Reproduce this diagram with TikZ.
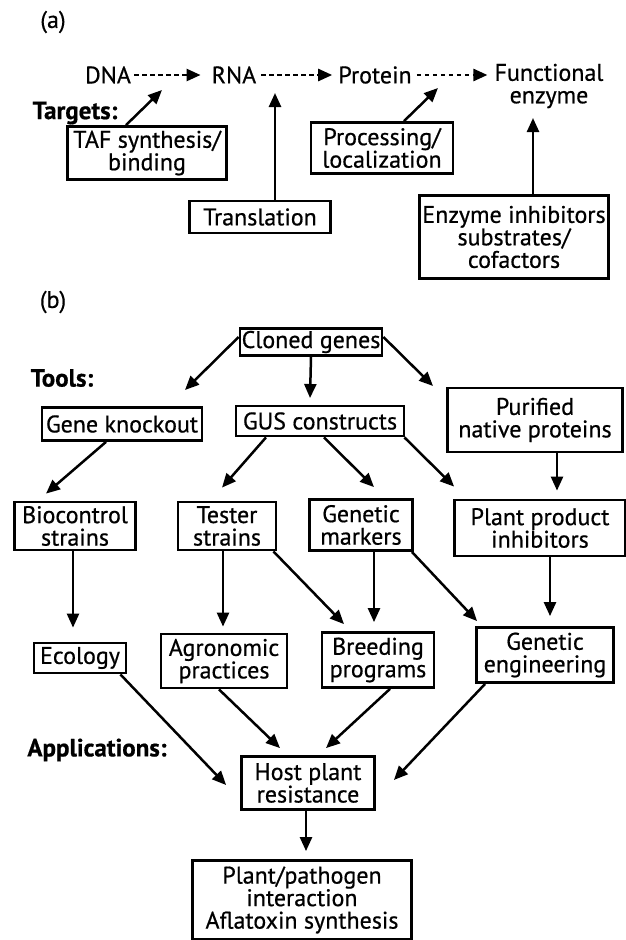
\documentclass[tikz,border=0pt]{standalone}
\usepackage{fontspec}
\setmainfont{PT Sans}[FakeBold=0.6]
\usetikzlibrary{arrows.meta}
\tikzset{
  box/.style={draw,line width=2.8pt,align=center,inner sep=1pt},
  word/.style={align=center,inner sep=1pt},
  tag/.style={font=\fontsize{25}{22}\selectfont\bfseries},
  wh/.style 2 args={minimum width=#1,minimum height=#2},
  arr/.style={-{Triangle[length=14pt,width=12pt]},line width=2.5pt},
  darr/.style={arr,dash pattern=on 4.5pt off 3.5pt},
}

\begin{document}
\begin{tikzpicture}[x=1pt,y=-1pt,font=\fontsize{24}{22.5}\selectfont]
  \useasboundingbox (0,0) rectangle (626,940);

  % (a)
  \node[word] (la) at (53,22) {(a)};
  \node[word] (dna) at (108,75) {DNA};
  \node[word] (rna) at (234,75) {RNA};
  \node[word] (prot) at (375,75) {Protein};
  \node[word] (fenz) at (549,86) {Functional\\enzyme};
  \node[tag] (targets) at (75,113) {Targets:};

  \node[box,wh={159pt}{53pt}] (taf) at (147,153) {TAF synthesis/\\binding};
  \node[box,wh={141pt}{32pt}] (transl) at (260,217) {Translation};
  \node[box,wh={142pt}{51pt}] (proc) at (382,148) {Processing/\\localization};
  \node[box,wh={189pt}{83pt}] (inhib) at (514,237) {Enzyme inhibitors\\substrates/\\cofactors};

  \coordinate (t1) at (162,90);
  \coordinate (t2) at (275,93);
  \coordinate (t3) at (438,88);
  \coordinate (t4) at (533,118);

  \begin{scope}[darr]
    \draw[shorten <=2pt,shorten >=10pt] (dna.east) -- (rna.west);
    \draw[shorten <=4pt,shorten >=5pt] (rna.east) -- (prot.west);
    \draw[shorten <=4pt,shorten >=6pt] (prot.east) -- (fenz.west |- prot.east);
  \end{scope}

  \begin{scope}[arr]
    \draw ([xshift=-21pt]taf.north) -- (t1);
    \draw ([xshift=15pt]transl.north) -- (t2);
    \draw ([xshift=22pt]proc.north) -- (t3);
    \draw ([xshift=19pt]inhib.north) -- (t4);
  \end{scope}

  % (b)
  \node[word] (lb) at (53,302) {(b)};
  \node[tag] (tools) at (62,378) {Tools:};
  \node[tag] (apps) at (97,750) {Applications:};

  \node[box,wh={142pt}{27pt}] (clone) at (311,342) {Cloned genes};
  \node[box,wh={160pt}{33pt}] (gk) at (122,424) {Gene knockout};
  \node[box,wh={168pt}{30pt}] (gus) at (320,421) {GUS constructs};
  \node[box,wh={175pt}{64pt}] (pur) at (535,420) {Purified\\native proteins};
  \node[box,wh={121pt}{48pt}] (bio) at (75,526) {Biocontrol\\strains};
  \node[box,wh={98pt}{48pt}] (tester) at (227,526) {Tester\\strains};
  \node[box,wh={103pt}{51pt}] (gm) at (361,525) {Genetic\\markers};
  \node[box,wh={171pt}{56pt}] (ppi) at (540,528) {Plant product\\inhibitors};
  \node[box,wh={92pt}{30pt}] (eco) at (80,658) {Ecology};
  \node[box,wh={126pt}{54pt}] (agro) at (224,661) {Agronomic\\practices};
  \node[box,wh={112pt}{55pt}] (breed) at (378,660) {Breeding\\programs};
  \node[box,wh={137pt}{55pt}] (geng) at (545,655) {Genetic\\engineering};
  \node[box,wh={133pt}{53pt}] (hpr) at (308,783) {Host plant\\resistance};
  \node[box,wh={219pt}{79pt}] (ppath) at (302,900) {Plant/pathogen\\interaction\\Aflatoxin synthesis};

  \coordinate (c1) at (185,390);
  \coordinate (c2) at (310,398);
  \coordinate (c3) at (433,386);

  \begin{scope}[arr]
    \draw ([yshift=5pt]clone.west) -- (c1);
    \draw (clone.south) -- (c2);
    \draw ([yshift=5pt]clone.east) -- (c3);

    \draw ([xshift=-16pt]gk.south) -- ([xshift=-29pt,yshift=7pt]bio.north);
    \draw ([xshift=-54pt]gus.south) -- ([xshift=-5pt,yshift=13pt]tester.north);
    \draw ([xshift=4pt]gus.south) -- ([xshift=13pt,yshift=11pt]gm.north);
    \draw ([xshift=-1pt]gus.south east) -- ([xshift=1pt,yshift=12pt]ppi.north west);
    \draw ([xshift=22pt]pur.south) -- ([xshift=17pt,yshift=8pt]ppi.north);

    \draw ([xshift=-2pt]bio.south) -- ([xshift=-7pt,yshift=14pt]eco.north);
    \draw ([xshift=-4pt]tester.south) -- ([xshift=-1pt,yshift=6pt]agro.north);
    \draw ([xshift=-4pt]tester.south east) -- ([xshift=-34pt,yshift=7pt]breed.north);
    \draw ([xshift=13pt]gm.south) -- ([xshift=-4pt,yshift=9pt]breed.north);
    \draw ([xshift=-2pt]gm.south east) -- ([xshift=2pt,yshift=5pt]geng.north west);
    \draw ([xshift=10pt]ppi.south) -- ([xshift=5pt,yshift=10pt]geng.north);

    \draw ([xshift=-7pt]eco.south east) -- ([xshift=-14pt,yshift=-2pt]hpr.west);
    \draw ([xshift=-5pt]agro.south) -- ([xshift=-28pt,yshift=7pt]hpr.north);
    \draw ([xshift=12pt]breed.south) -- ([xshift=18pt,yshift=7pt]hpr.north);
    \draw ([xshift=10pt]geng.south west) -- ([xshift=18pt,yshift=3pt]hpr.east);
    \draw ([xshift=-2pt]hpr.south) -- ([xshift=4pt,yshift=8pt]ppath.north);
  \end{scope}
\end{tikzpicture}
\end{document}
